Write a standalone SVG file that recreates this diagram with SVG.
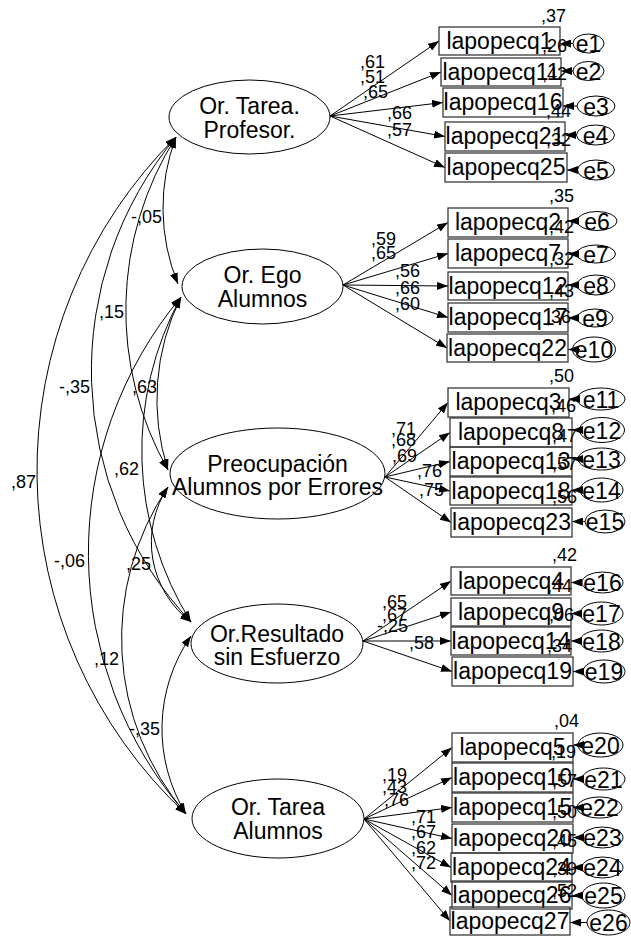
<svg xmlns="http://www.w3.org/2000/svg" width="631" height="936" viewBox="0 0 631 936">
  <defs>
    <marker id="ah" viewBox="0 0 11 8" refX="11" refY="4" markerWidth="11" markerHeight="8" markerUnits="userSpaceOnUse" orient="auto-start-reverse">
      <path d="M0,0 L11,4 L0,8 z" fill="#000"/>
    </marker>
  </defs>
  <style>
    text { font-family: "Liberation Sans", Arial, sans-serif; fill: #000; }
    .name { font-size: 23px; text-anchor: middle; }
    .coef { font-size: 18px; }
    .lat ellipse, .err ellipse { fill: none; stroke: #000; stroke-width: 1; }
    .obs rect { fill: none; stroke: #3a3a3a; stroke-width: 1.3; }
    #connectors line, #connectors path { fill: none; stroke: #000; stroke-width: 1; }
    .one { marker-end: url(#ah); }
    .two { marker-start: url(#ah); marker-end: url(#ah); }
  </style>
  <rect width="631" height="936" fill="#fff"/>

  <!-- covariances, loadings and error paths -->
  <g id="connectors">
    <path class="two" d="M176,137 A200,200 0 0 0 178,284"/>
    <path class="two" d="M176,137 A324,324 0 0 0 168,470"/>
    <path class="two" d="M176,137 A366,366 0 0 0 191,622"/>
    <path class="two" d="M176,137 A470,470 0 0 0 186,814"/>
    <path class="two" d="M181,297 A230,230 0 0 0 168,470"/>
    <path class="two" d="M181,297 A322,322 0 0 0 191,622"/>
    <path class="two" d="M181,297 A399,399 0 0 0 186,814"/>
    <path class="two" d="M168,487 A100,100 0 0 0 191,622"/>
    <path class="two" d="M168,487 A271,271 0 0 0 186,814"/>
    <path class="two" d="M191,636 A163,163 0 0 0 186,814"/>

    <line class="one" x1="330" y1="116" x2="439" y2="41"/>
    <line class="one" x1="330" y1="116" x2="441" y2="72"/>
    <line class="one" x1="330" y1="116" x2="443" y2="102.5"/>
    <line class="one" x1="330" y1="116" x2="445" y2="136.5"/>
    <line class="one" x1="330" y1="116" x2="445" y2="167.5"/>

    <line class="one" x1="343" y1="285" x2="448" y2="222.5"/>
    <line class="one" x1="343" y1="285" x2="448" y2="253.5"/>
    <line class="one" x1="343" y1="285" x2="448" y2="286"/>
    <line class="one" x1="343" y1="285" x2="448" y2="317.5"/>
    <line class="one" x1="343" y1="285" x2="447" y2="348"/>

    <line class="one" x1="385" y1="477" x2="448" y2="402.5"/>
    <line class="one" x1="385" y1="477" x2="450" y2="432.5"/>
    <line class="one" x1="385" y1="477" x2="450" y2="461.5"/>
    <line class="one" x1="385" y1="477" x2="450" y2="491"/>
    <line class="one" x1="385" y1="477" x2="451" y2="522.5"/>

    <line class="one" x1="363" y1="641" x2="451" y2="581"/>
    <line class="one" x1="363" y1="641" x2="451" y2="612"/>
    <line class="one" x1="363" y1="641" x2="451" y2="641"/>
    <line class="one" x1="363" y1="641" x2="452" y2="671.5"/>

    <line class="one" x1="364" y1="819" x2="452" y2="747.5"/>
    <line class="one" x1="364" y1="819" x2="452" y2="777.5"/>
    <line class="one" x1="364" y1="819" x2="452" y2="807.5"/>
    <line class="one" x1="364" y1="819" x2="452" y2="838.5"/>
    <line class="one" x1="364" y1="819" x2="451" y2="867.5"/>
    <line class="one" x1="364" y1="819" x2="452" y2="895.5"/>
    <line class="one" x1="364" y1="819" x2="450" y2="921"/>

    <line class="one" x1="573" y1="43.5" x2="560" y2="43.5"/>
    <line class="one" x1="573" y1="71" x2="561" y2="71"/>
    <line class="one" x1="577" y1="106" x2="563" y2="106"/>
    <line class="one" x1="576.5" y1="135" x2="565" y2="135"/>
    <line class="one" x1="577.5" y1="170" x2="567" y2="170"/>
    <line class="one" x1="577" y1="221" x2="568" y2="221"/>
    <line class="one" x1="576.5" y1="254" x2="568" y2="254"/>
    <line class="one" x1="577" y1="285" x2="568" y2="285"/>
    <line class="one" x1="577" y1="318" x2="568" y2="318"/>
    <line class="one" x1="580" y1="349.5" x2="568" y2="349.5"/>
    <line class="one" x1="580" y1="399" x2="569" y2="399"/>
    <line class="one" x1="582" y1="430" x2="572" y2="430"/>
    <line class="one" x1="582" y1="459" x2="572" y2="459"/>
    <line class="one" x1="582" y1="490" x2="572" y2="490"/>
    <line class="one" x1="585" y1="521.5" x2="572" y2="521.5"/>
    <line class="one" x1="582" y1="582.5" x2="571" y2="582.5"/>
    <line class="one" x1="582" y1="613.5" x2="571" y2="613.5"/>
    <line class="one" x1="582" y1="641" x2="571" y2="641"/>
    <line class="one" x1="584" y1="671.5" x2="573" y2="671.5"/>
    <line class="one" x1="584" y1="745" x2="573" y2="745"/>
    <line class="one" x1="584" y1="779" x2="573" y2="779"/>
    <line class="one" x1="584" y1="807.5" x2="573" y2="807.5"/>
    <line class="one" x1="584" y1="837.5" x2="573" y2="837.5"/>
    <line class="one" x1="583" y1="867.5" x2="572" y2="867.5"/>
    <line class="one" x1="583" y1="895.5" x2="572" y2="895.5"/>
    <line class="one" x1="587" y1="922.5" x2="570" y2="922.5"/>
  </g>

  <!-- path coefficients -->
  <g id="coefficients">
    <text class="coef" x="131" y="223">-,05</text>
    <text class="coef" x="99" y="318">,15</text>
    <text class="coef" x="59" y="393">-,35</text>
    <text class="coef" x="132" y="393">,63</text>
    <text class="coef" x="11" y="488">,87</text>
    <text class="coef" x="114" y="475">,62</text>
    <text class="coef" x="54" y="567">-,06</text>
    <text class="coef" x="126" y="570">,25</text>
    <text class="coef" x="94" y="665">,12</text>
    <text class="coef" x="129" y="735">-,35</text>

    <text class="coef" x="360" y="68">,61</text>
    <text class="coef" x="360" y="83">,51</text>
    <text class="coef" x="363" y="98">,65</text>
    <text class="coef" x="387" y="119">,66</text>
    <text class="coef" x="387" y="136">,57</text>

    <text class="coef" x="371" y="245">,59</text>
    <text class="coef" x="371" y="259">,65</text>
    <text class="coef" x="395" y="277">,56</text>
    <text class="coef" x="395" y="294">,66</text>
    <text class="coef" x="395" y="310">,60</text>

    <text class="coef" x="391" y="435">,71</text>
    <text class="coef" x="391" y="446">,68</text>
    <text class="coef" x="392" y="462">,69</text>
    <text class="coef" x="417" y="477">,76</text>
    <text class="coef" x="419" y="496">,75</text>

    <text class="coef" x="382" y="608">,65</text>
    <text class="coef" x="382" y="621">,67</text>
    <text class="coef" x="377" y="632">-,25</text>
    <text class="coef" x="409" y="649">,58</text>

    <text class="coef" x="382" y="781">,19</text>
    <text class="coef" x="382" y="793">,43</text>
    <text class="coef" x="384" y="806">,76</text>
    <text class="coef" x="411" y="823">,71</text>
    <text class="coef" x="411" y="838">,67</text>
    <text class="coef" x="411" y="854">,62</text>
    <text class="coef" x="411" y="869">,72</text>
  </g>

  <!-- latent factors -->
  <g id="f1" class="lat">
    <ellipse cx="249.5" cy="117" rx="80.5" ry="37"/>
    <text class="name" x="249.5" y="113.5">Or. Tarea.</text>
    <text class="name" x="249.5" y="137.5">Profesor.</text>
  </g>
  <g id="f2" class="lat">
    <ellipse cx="262.5" cy="286.5" rx="80.5" ry="37.5"/>
    <text class="name" x="262.5" y="283">Or. Ego</text>
    <text class="name" x="262.5" y="307">Alumnos</text>
  </g>
  <g id="f3" class="lat">
    <ellipse cx="277.5" cy="473.5" rx="107.5" ry="45.5"/>
    <text class="name" x="277.5" y="472">Preocupación</text>
    <text class="name" x="277.5" y="494.5">Alumnos por Errores</text>
  </g>
  <g id="f4" class="lat">
    <ellipse cx="277" cy="643.5" rx="86" ry="39.5"/>
    <text class="name" x="277" y="642">Or.Resultado</text>
    <text class="name" x="277" y="665">sin Esfuerzo</text>
  </g>
  <g id="f5" class="lat">
    <ellipse cx="278" cy="818.5" rx="86" ry="39.5"/>
    <text class="name" x="278" y="815">Or. Tarea</text>
    <text class="name" x="278" y="838.5">Alumnos</text>
  </g>

  <!-- observed items -->
  <g id="q1" class="obs"><rect x="439" y="27" width="121" height="28"/><text class="name" x="499.5" y="49">lapopecq1</text></g>
  <g id="q11" class="obs"><rect x="441" y="58" width="120" height="28"/><text class="name" x="501" y="80">lapopecq11</text></g>
  <g id="q16" class="obs"><rect x="443" y="88" width="120" height="29"/><text class="name" x="503" y="110">lapopecq16</text></g>
  <g id="q21" class="obs"><rect x="445" y="122" width="120" height="29"/><text class="name" x="505" y="144">lapopecq21</text></g>
  <g id="q25" class="obs"><rect x="445" y="153" width="122" height="29"/><text class="name" x="506" y="175">lapopecq25</text></g>

  <g id="q2" class="obs"><rect x="448" y="208" width="120" height="29"/><text class="name" x="508" y="230">lapopecq2</text></g>
  <g id="q7" class="obs"><rect x="448" y="239" width="120" height="29"/><text class="name" x="508" y="261">lapopecq7</text></g>
  <g id="q12" class="obs"><rect x="448" y="272" width="120" height="28"/><text class="name" x="508" y="294">lapopecq12</text></g>
  <g id="q17" class="obs"><rect x="448" y="303" width="120" height="29"/><text class="name" x="508" y="325">lapopecq17</text></g>
  <g id="q22" class="obs"><rect x="447" y="334" width="121" height="28"/><text class="name" x="507.5" y="356">lapopecq22</text></g>

  <g id="q3" class="obs"><rect x="448" y="388" width="121" height="29"/><text class="name" x="508.5" y="410">lapopecq3</text></g>
  <g id="q8" class="obs"><rect x="450" y="418" width="122" height="29"/><text class="name" x="511" y="440">lapopecq8</text></g>
  <g id="q13" class="obs"><rect x="450" y="447" width="122" height="29"/><text class="name" x="511" y="469">lapopecq13</text></g>
  <g id="q18" class="obs"><rect x="450" y="477" width="122" height="28"/><text class="name" x="511" y="499">lapopecq18</text></g>
  <g id="q23" class="obs"><rect x="451" y="508" width="121" height="29"/><text class="name" x="511.5" y="530">lapopecq23</text></g>

  <g id="q4" class="obs"><rect x="451" y="567" width="120" height="28"/><text class="name" x="511" y="589">lapopecq4</text></g>
  <g id="q9" class="obs"><rect x="451" y="598" width="120" height="28"/><text class="name" x="511" y="620">lapopecq9</text></g>
  <g id="q14" class="obs"><rect x="451" y="627" width="120" height="28"/><text class="name" x="511" y="649">lapopecq14</text></g>
  <g id="q19" class="obs"><rect x="452" y="657" width="121" height="29"/><text class="name" x="512.5" y="679">lapopecq19</text></g>

  <g id="q5" class="obs"><rect x="452" y="733" width="121" height="29"/><text class="name" x="512.5" y="755">lapopecq5</text></g>
  <g id="q10" class="obs"><rect x="452" y="763" width="121" height="29"/><text class="name" x="512.5" y="785">lapopecq10</text></g>
  <g id="q15" class="obs"><rect x="452" y="793" width="121" height="29"/><text class="name" x="512.5" y="815">lapopecq15</text></g>
  <g id="q20" class="obs"><rect x="452" y="824" width="121" height="29"/><text class="name" x="512.5" y="846">lapopecq20</text></g>
  <g id="q24" class="obs"><rect x="451" y="853" width="121" height="29"/><text class="name" x="511.5" y="875">lapopecq24</text></g>
  <g id="q26" class="obs"><rect x="452" y="881" width="120" height="28"/><text class="name" x="512" y="903">lapopecq26</text></g>
  <g id="q27" class="obs"><rect x="450" y="907" width="120" height="28"/><text class="name" x="510" y="929">lapopecq27</text></g>

  <!-- squared multiple correlations -->
  <g id="r2">
    <text class="coef" x="541" y="22">,37</text>
    <text class="coef" x="542" y="52">,26</text>
    <text class="coef" x="542" y="80">,42</text>
    <text class="coef" x="546" y="117">,44</text>
    <text class="coef" x="546" y="146">,32</text>
    <text class="coef" x="549" y="202">,35</text>
    <text class="coef" x="549" y="233">,42</text>
    <text class="coef" x="549" y="265">,32</text>
    <text class="coef" x="549" y="297">,43</text>
    <text class="coef" x="546" y="323">,36</text>
    <text class="coef" x="549" y="382">,50</text>
    <text class="coef" x="551" y="412">,46</text>
    <text class="coef" x="552" y="442">,47</text>
    <text class="coef" x="552" y="470">,57</text>
    <text class="coef" x="552" y="503">,56</text>
    <text class="coef" x="552" y="561">,42</text>
    <text class="coef" x="547" y="592">,44</text>
    <text class="coef" x="549" y="621">,06</text>
    <text class="coef" x="547" y="652">,34</text>
    <text class="coef" x="554" y="727">,04</text>
    <text class="coef" x="551" y="758">,19</text>
    <text class="coef" x="552" y="787">,57</text>
    <text class="coef" x="552" y="818">,50</text>
    <text class="coef" x="552" y="847">,45</text>
    <text class="coef" x="552" y="875">,39</text>
    <text class="coef" x="552" y="897">,52</text>
  </g>

  <!-- error terms -->
  <g id="e1" class="err"><ellipse cx="588.5" cy="43.5" rx="15.5" ry="9.5"/><text class="name" x="588.5" y="52">e1</text></g>
  <g id="e2" class="err"><ellipse cx="588.5" cy="71" rx="15.5" ry="9.5"/><text class="name" x="588.5" y="79.5">e2</text></g>
  <g id="e3" class="err"><ellipse cx="596" cy="106" rx="19" ry="10"/><text class="name" x="596" y="114.5">e3</text></g>
  <g id="e4" class="err"><ellipse cx="595.5" cy="135" rx="19" ry="10"/><text class="name" x="595.5" y="143.5">e4</text></g>
  <g id="e5" class="err"><ellipse cx="596" cy="170" rx="18.5" ry="10"/><text class="name" x="596" y="178.5">e5</text></g>
  <g id="e6" class="err"><ellipse cx="597" cy="221" rx="20" ry="9.5"/><text class="name" x="597" y="229.5">e6</text></g>
  <g id="e7" class="err"><ellipse cx="596" cy="254" rx="19.5" ry="9"/><text class="name" x="596" y="262.5">e7</text></g>
  <g id="e8" class="err"><ellipse cx="596" cy="285" rx="19" ry="10"/><text class="name" x="596" y="293.5">e8</text></g>
  <g id="e9" class="err"><ellipse cx="595" cy="318" rx="18" ry="9"/><text class="name" x="595" y="326.5">e9</text></g>
  <g id="e10" class="err"><ellipse cx="594" cy="349.5" rx="21.5" ry="12.5"/><text class="name" x="594" y="358">e10</text></g>
  <g id="e11" class="err"><ellipse cx="601" cy="399" rx="24" ry="11"/><text class="name" x="601" y="407.5">e11</text></g>
  <g id="e12" class="err"><ellipse cx="602" cy="430" rx="22.5" ry="12.5"/><text class="name" x="602" y="438.5">e12</text></g>
  <g id="e13" class="err"><ellipse cx="601.5" cy="459" rx="23.5" ry="11"/><text class="name" x="601.5" y="467.5">e13</text></g>
  <g id="e14" class="err"><ellipse cx="601.5" cy="490" rx="21.5" ry="12"/><text class="name" x="601.5" y="498.5">e14</text></g>
  <g id="e15" class="err"><ellipse cx="605" cy="521.5" rx="20" ry="11.5"/><text class="name" x="605" y="530">e15</text></g>
  <g id="e16" class="err"><ellipse cx="602.5" cy="582.5" rx="20.5" ry="10.5"/><text class="name" x="602.5" y="591">e16</text></g>
  <g id="e17" class="err"><ellipse cx="601.5" cy="613.5" rx="21.5" ry="11.5"/><text class="name" x="601.5" y="622">e17</text></g>
  <g id="e18" class="err"><ellipse cx="601.5" cy="641" rx="21.5" ry="11"/><text class="name" x="601.5" y="649.5">e18</text></g>
  <g id="e19" class="err"><ellipse cx="604" cy="671.5" rx="21" ry="11.5"/><text class="name" x="604" y="680">e19</text></g>
  <g id="e20" class="err"><ellipse cx="600.5" cy="745" rx="22.5" ry="12"/><text class="name" x="600.5" y="753.5">e20</text></g>
  <g id="e21" class="err"><ellipse cx="603.5" cy="779" rx="21.5" ry="11"/><text class="name" x="603.5" y="787.5">e21</text></g>
  <g id="e22" class="err"><ellipse cx="599.5" cy="807.5" rx="22.5" ry="10.5"/><text class="name" x="599.5" y="816">e22</text></g>
  <g id="e23" class="err"><ellipse cx="602.5" cy="837.5" rx="20.5" ry="10.5"/><text class="name" x="602.5" y="846">e23</text></g>
  <g id="e24" class="err"><ellipse cx="602.5" cy="867.5" rx="20.5" ry="10.5"/><text class="name" x="602.5" y="876">e24</text></g>
  <g id="e25" class="err"><ellipse cx="603.5" cy="895.5" rx="21.5" ry="12.5"/><text class="name" x="603.5" y="904">e25</text></g>
  <g id="e26" class="err"><ellipse cx="608.5" cy="922.5" rx="21.5" ry="12.5"/><text class="name" x="608.5" y="931">e26</text></g>
</svg>
